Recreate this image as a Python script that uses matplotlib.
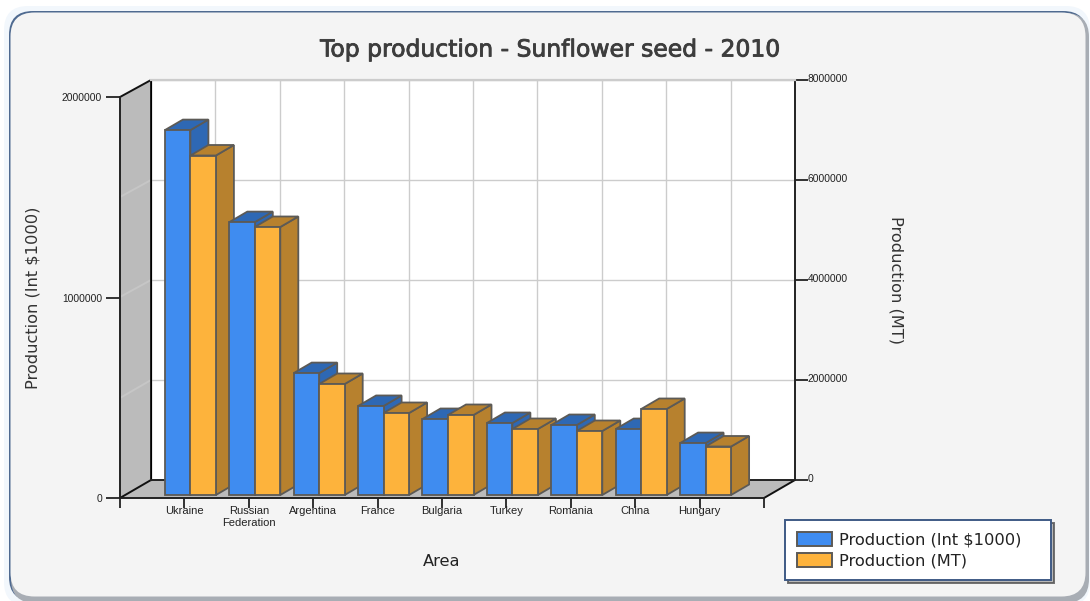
import matplotlib
matplotlib.use("Agg")
import matplotlib.pyplot as plt
import matplotlib.patheffects as pe
from matplotlib.patches import FancyBboxPatch, Polygon, Patch
from matplotlib.transforms import Affine2D, IdentityTransform

W, H = 1090, 601

areas = ['Ukraine', 'Russian\nFederation', 'Argentina', 'France', 'Bulgaria',
         'Turkey', 'Romania', 'China', 'Hungary']
prod_int = [1820000, 1361000, 608000, 444000, 379000, 359000, 349000, 329000, 259000]
prod_mt = [6790000, 5360000, 2220000, 1640000, 1600000, 1320000, 1280000, 1720000, 970000]
left_ticks = [0, 1000000, 2000000]
right_ticks = [0, 2000000, 4000000, 6000000, 8000000]

BLUE, BLUE_DARK = '#3f8cf0', '#2e68b4'
ORANGE, ORANGE_DARK = '#fdb33c', '#b7812e'
EDGE = '#5c5a56'
WALL = '#bbbbbb'
GRID = '#cccccc'

# depth of the box in pixels, and how far the bars sit in from the front edge
DEPTH_X, DEPTH_Y = 18, 10.5
INSET_X, INSET_Y = 6, 3
BAR_W = 0.396

fig = plt.figure(figsize=(W / 100, H / 100), dpi=100, facecolor='#ffffff')


def box(x0, y_top, x1, y_bottom):
    return [x0 / W, (H - y_bottom) / H, (x1 - x0) / W, (y_bottom - y_top) / H]


def rounded(x, y, w, h, col, radius=24):
    return FancyBboxPatch((x, y), w, h, boxstyle=f'round,pad=0,rounding_size={radius}',
                          fc=col, ec='none')


# background layer in pixel coordinates: panel, left wall, floor
bg = fig.add_axes([0, 0, 1, 1], zorder=0)
bg.set_xlim(0, W)
bg.set_ylim(H, 0)
bg.axis('off')

bg.add_patch(rounded(4, 6, 1086, 600, '#f2f7fc'))
bg.add_patch(rounded(9, 11, 1078, 590, '#4f6a90'))
bg.add_patch(rounded(11, 13, 1078, 590, '#a8adb4'))
bg.add_patch(rounded(10.5, 12.5, 1075, 584, '#f4f4f4'))

bg.add_patch(Polygon([(120, 97), (151, 80), (151, 480), (120, 498)], fc=WALL, ec='none'))
bg.add_patch(Polygon([(120, 498), (151, 480), (795, 480), (764, 498)], fc=WALL, ec='none'))

# value axes: the MT scale lives on the back wall, the $ scale on the front plane
back = fig.add_axes(box(151, 80, 795, 480), zorder=1)
back.set_xlim(0, 10)
back.set_ylim(0, 8000000)
back.set_facecolor('white')
back.set_xticks(range(0, 11))
back.set_xticklabels([])
back.tick_params(axis='x', length=0)
back.yaxis.tick_right()
back.set_yticks(right_ticks)
back.set_yticklabels([str(v) for v in right_ticks], fontsize=7.4, family='Liberation Sans',
                     color='#222222')
back.tick_params(axis='y', length=9, width=1.3, color='#222222', pad=0)
for label in back.get_yticklabels():
    label.set_transform(label.get_transform() + Affine2D().translate(0, 2.5))
back.grid(True, color=GRID, lw=1.0)
back.set_axisbelow(True)
back.spines['top'].set_color(GRID)
back.spines['top'].set_linewidth(1.6)
back.spines['left'].set_color('black')
for side in ['right', 'bottom']:
    back.spines[side].set_color('#222222')
    back.spines[side].set_linewidth(1.4)
back.yaxis.set_label_position('right')
back.set_ylabel('Production (MT)', fontsize=11.7, rotation=270, color='#333333',
                labelpad=40)

front = fig.add_axes(box(120, 97, 764, 498), zorder=2)
front.set_xlim(0, 10)
front.set_ylim(0, 2000000)
front.patch.set_alpha(0)
front.set_xticks(range(0, 11))
front.set_xticklabels([''] + areas + [''], fontsize=8, family='Liberation Sans',
                      color='#222222', linespacing=1.3)
front.tick_params(axis='x', length=7, width=1.3, color='#222222', pad=-1.5)
front.set_yticks(left_ticks)
front.set_yticklabels([str(v) for v in left_ticks], fontsize=7.4, family='Liberation Sans',
                      color='#222222')
front.tick_params(axis='y', length=10, width=1.3, color='#222222', pad=3)
for side in ['top', 'right']:
    front.spines[side].set_visible(False)
for side in ['left', 'bottom']:
    front.spines[side].set_color('#222222')
    front.spines[side].set_linewidth(1.4)
front.set_ylabel('Production (Int $1000)', fontsize=11.7, color='#333333', labelpad=15.5)
front.set_xlabel('Area', fontsize=11.7, color='#222222', labelpad=19)

# diagonal edges of the box, on top of the walls
for (x0, y0), (x1, y1), col in [((120, 97), (151, 80), '#111111'),
                                ((120, 498), (151, 480), '#111111'),
                                ((764, 498), (795, 480), '#111111'),
                                ((120, 197), (151, 180), '#c6c6c6'),
                                ((120, 297), (151, 280), '#c6c6c6'),
                                ((120, 398), (151, 380), '#c6c6c6')]:
    bg.plot([x0, x1], [y0, y1], color=col, lw=1.4, solid_capstyle='round')
bg.plot([151, 151], [80, 480], color='#111111', lw=1.3)


def draw_bar(ax, scale_ax, x0, x1, value, face, dark, z):
    # front face from the value axis, then extruded by the depth in pixels
    (px0, py0) = front.transData.transform((x0, 0))
    (px1, _) = front.transData.transform((x1, 0))
    h = scale_ax.transData.transform((0, value))[1] - scale_ax.transData.transform((0, 0))[1]
    px0 += INSET_X
    px1 += INSET_X
    y0 = py0 + INSET_Y
    y1 = y0 + h
    side = [(px1, y0), (px1 + DEPTH_X, y0 + DEPTH_Y), (px1 + DEPTH_X, y1 + DEPTH_Y), (px1, y1)]
    top = [(px0, y1), (px0 + DEPTH_X, y1 + DEPTH_Y), (px1 + DEPTH_X, y1 + DEPTH_Y), (px1, y1)]
    face_pts = [(px0, y0), (px1, y0), (px1, y1), (px0, y1)]
    for pts, col in [(side, dark), (top, dark), (face_pts, face)]:
        ax.add_patch(Polygon(pts, fc=col, ec=EDGE, lw=1.3, joinstyle='miter', zorder=z,
                             transform=IdentityTransform(), clip_on=False))


for i, (v_int, v_mt) in enumerate(zip(prod_int, prod_mt)):
    pos = i + 1
    draw_bar(front, front, pos - BAR_W, pos, v_int, BLUE, BLUE_DARK, 3 + i * 0.1)
    draw_bar(front, back, pos, pos + BAR_W, v_mt, ORANGE, ORANGE_DARK, 3.05 + i * 0.1)

title = fig.text(550 / W, 1 - 50 / H, 'Top production - Sunflower seed - 2010',
                 ha='center', va='center', fontsize=16.9, color='#3d3d3d')
title.set_path_effects([pe.SimpleLineShadow(offset=(0.8, -0.8), shadow_color='#9a9a9a', alpha=0.7),
                        pe.withStroke(linewidth=0.6, foreground='#3d3d3d')])

handles = [Patch(fc=BLUE, ec=EDGE, lw=1.4, label='Production (Int $1000)'),
           Patch(fc=ORANGE, ec=EDGE, lw=1.4, label='Production (MT)')]
leg = fig.legend(handles=handles, loc='lower left',
                 bbox_to_anchor=(785 / W, (H - 580) / H, 266 / W, 60 / H),
                 fontsize=11.7, frameon=True, fancybox=False, framealpha=1,
                 edgecolor='#3f5a85', facecolor='white', labelcolor='#222222',
                 mode='expand', borderaxespad=0, borderpad=0.72,
                 handlelength=2.2, handleheight=0.95, handletextpad=0.38, labelspacing=0.31,
                 shadow={'ox': 2, 'oy': -2, 'fc': '#aaaaaa', 'alpha': 0.8})
leg.get_frame().set_linewidth(1.4)

fig.savefig('out.png', dpi=100, facecolor=fig.get_facecolor())
